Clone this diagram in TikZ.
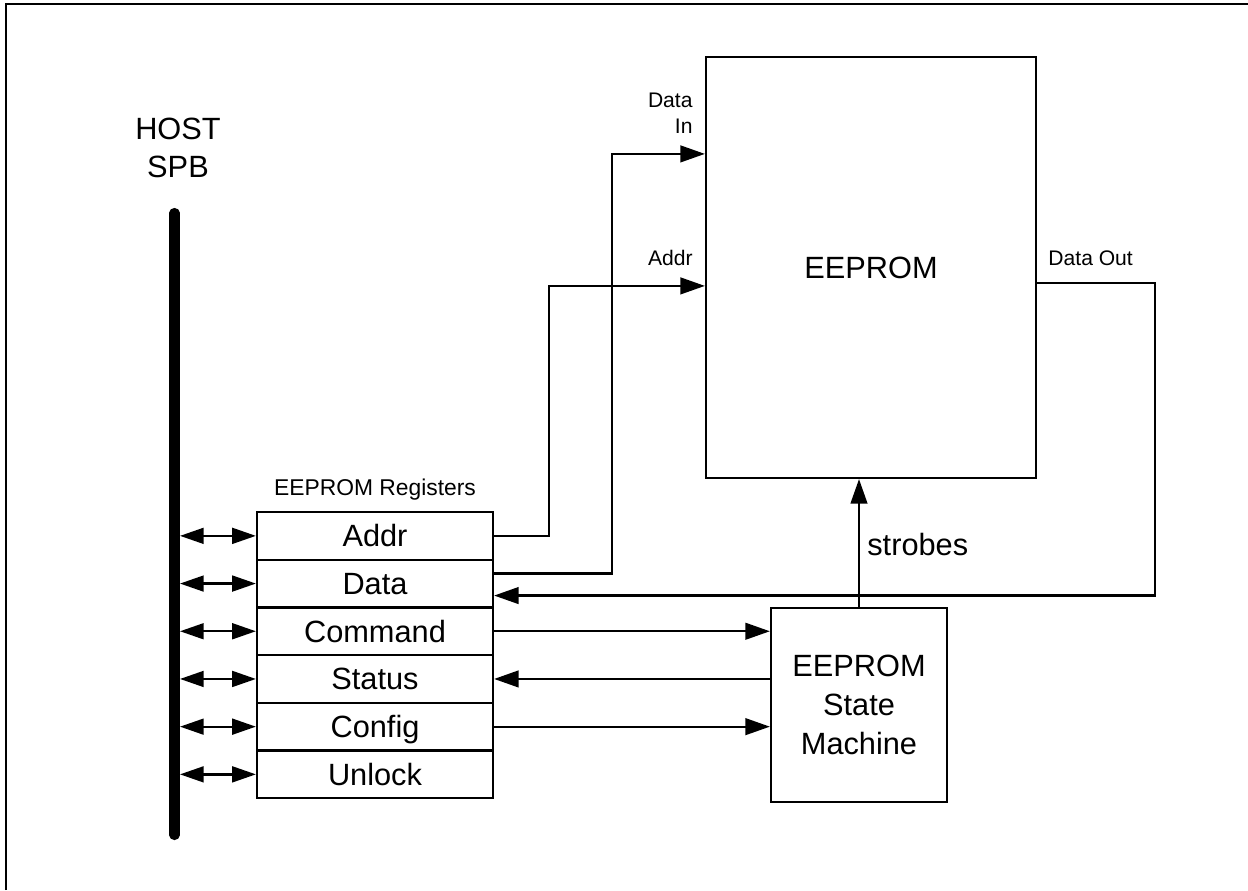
\documentclass[tikz,border=0pt]{standalone}
\usepackage{fontspec}
\setmainfont{Liberation Sans}
\usetikzlibrary{arrows.meta,calc}

\tikzset{
  wire/.style={line width=1.3pt},
  sig/.style={wire, -{Triangle[length=14pt,width=9.5pt]}},
  bisig/.style={wire, {Triangle[length=13.5pt,width=9pt]}-{Triangle[length=13.5pt,width=9pt]}},
  bigtxt/.style={font=\fontsize{17.5}{22}\selectfont},
  regrow/.style={draw, line width=1.3pt, minimum width=4.72cm, minimum height=0.954cm,
                 inner sep=0pt, text height=12.5pt, text depth=0pt, bigtxt},
  block/.style={draw, line width=1.3pt, inner sep=0pt, align=center, bigtxt},
  pinlbl/.style={inner sep=0pt, font=\fontsize{12}{15}\selectfont},
}

\begin{document}
\begin{tikzpicture}[x=0.02cm, y=-0.02cm]
  \useasboundingbox (0,0) rectangle (1248,890);

  % frame (top and left edges only)
  \draw[line width=1.4pt] (6,890) -- (6,4) -- (1248,4);

  % --- host bus ---
  \node[bigtxt, align=center, inner sep=0pt] (host) at (178,148) {HOST\\SPB};
  \coordinate (bustop) at (174.5,213);
  \coordinate (busbot) at (174.5,835);
  \coordinate (busedge) at (180,0);
  \draw[line width=5.8pt, line cap=round] (bustop) -- (busbot);

  % --- register file ---
  \foreach \lbl [count=\i] in {Addr,Data,Command,Status,Config,Unlock}
    \node[regrow] (r\i) at (375, {535.85+47.7*(\i-1)}) {\lbl};
  \node[inner sep=0pt, font=\fontsize{13}{15}\selectfont, anchor=base] (regtitle)
    at ($(r1.north)+(0,-15)$) {EEPROM Registers};

  \foreach \i in {1,...,6}
    \draw[bisig] (r\i.west -| busedge) -- (r\i.west);

  % --- EEPROM array and state machine ---
  \node[block, minimum width=6.6cm, minimum height=8.42cm] (eeprom) at (871,267.5) {EEPROM};
  \node[block, minimum width=3.52cm, minimum height=3.88cm] (fsm) at (859,705)
    {EEPROM\\State\\Machine};

  \coordinate (datain) at ($(eeprom.north west)+(0,98)$);
  \coordinate (addrin) at ($(eeprom.north west)+(0,230)$);
  \coordinate (dataout) at ($(eeprom.north east)+(0,227)$);

  % --- connections ---
  \draw[sig] (r1.east) -- ++(55,0) |- (addrin);
  \draw[sig] ($(r2.east)+(0,-10)$) -- ++(118,0) |- (datain);
  \draw[sig] (dataout) -- ++(118,0) |- ($(r2.east)+(0,12)$);
  \draw[sig] (r3.east) -- (r3.east -| fsm.west);
  \draw[sig] (r4.east -| fsm.west) -- (r4.east);
  \draw[sig] (r5.east) -- (r5.east -| fsm.west);
  \draw[sig] (fsm.north) -- (fsm.north |- eeprom.south);

  % --- pin labels ---
  \node[pinlbl, anchor=south east, align=right] (dinlbl) at ($(datain)+(-12,-20)$) {Data\\In};
  \node[pinlbl, anchor=base east] (addrlbl) at ($(addrin)+(-12,-20)$) {Addr};
  \node[pinlbl, anchor=base west] (doutlbl) at ($(dataout)+(11,-17)$) {Data Out};
  \node[bigtxt, inner sep=0pt, anchor=base west] (strobelbl) at ($(fsm.north)+(8,-51)$) {strobes};
\end{tikzpicture}
\end{document}
